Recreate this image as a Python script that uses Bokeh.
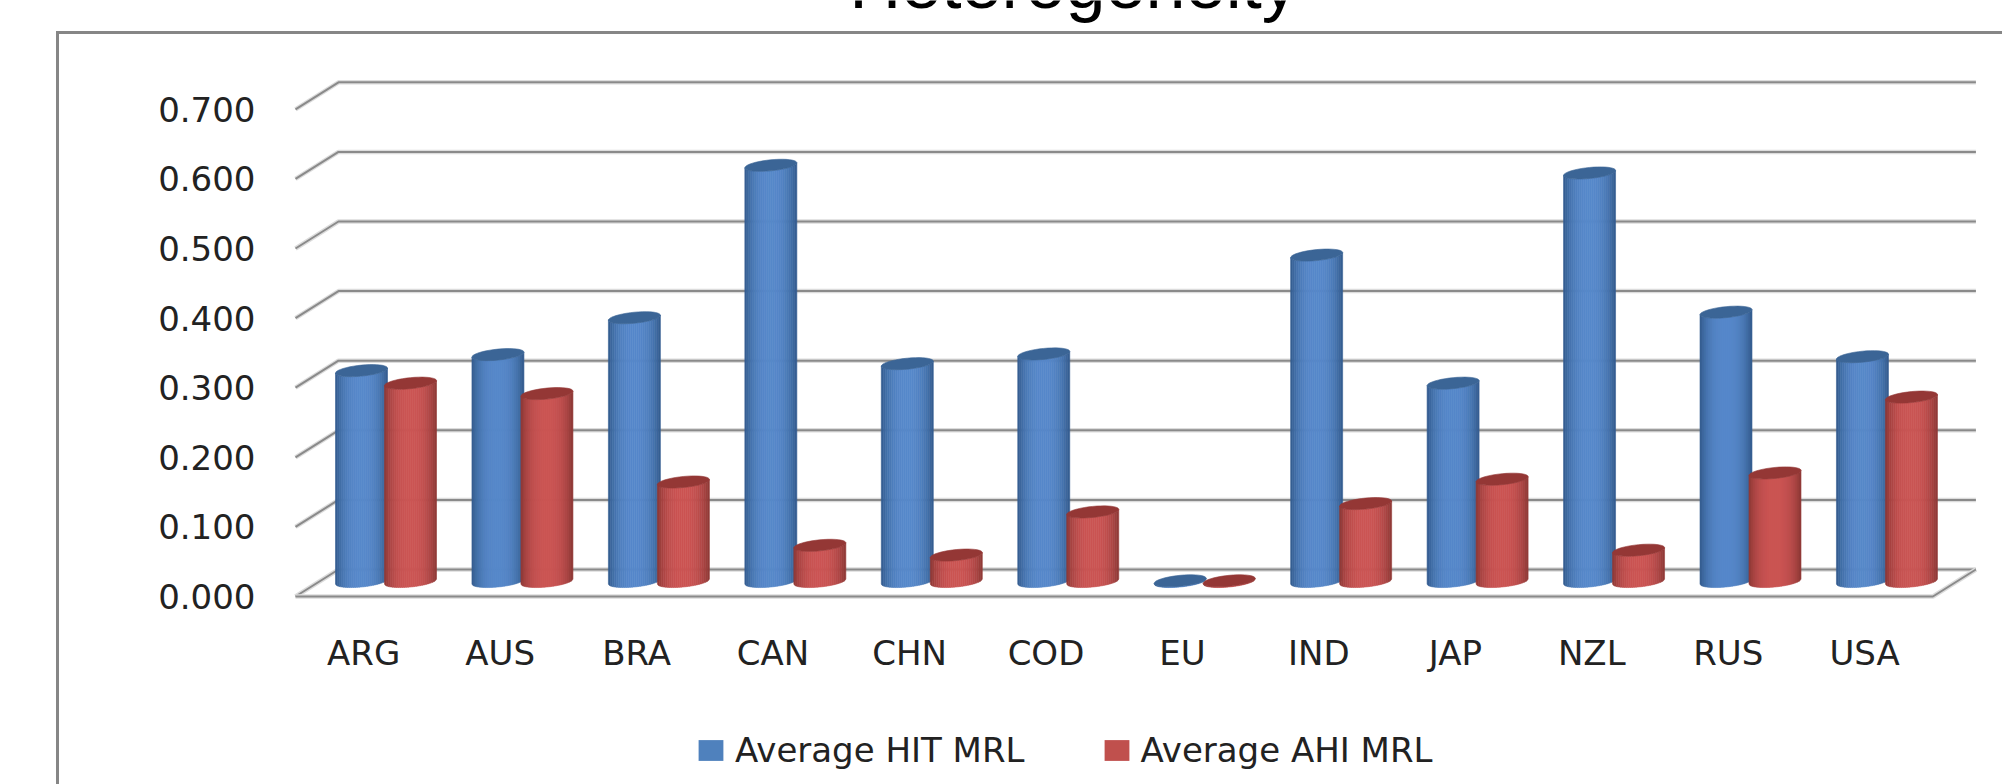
import numpy as np
from bokeh.core.properties import value
from bokeh.embed import file_html
from bokeh.models import (ColumnDataSource, FixedTicker, Legend, LegendItem,
                          NumeralTickFormatter, Range1d)
from bokeh.plotting import figure
from bokeh.resources import INLINE

categories = ["ARG", "AUS", "BRA", "CAN", "CHN", "COD", "EU", "IND", "JAP", "NZL", "RUS", "USA"]
hit_mrl = [0.303, 0.326, 0.379, 0.598, 0.313, 0.327, 0.001, 0.469, 0.285, 0.587, 0.387, 0.323]
ahi_mrl = [0.285, 0.270, 0.143, 0.052, 0.038, 0.100, 0.001, 0.112, 0.147, 0.045, 0.156, 0.265]
y_ticks = [0.0, 0.1, 0.2, 0.3, 0.4, 0.5, 0.6, 0.7]
title_text = "Heterogeneity"
series_names = ["Average HIT MRL", "Average AHI MRL"]

W, H = 2002, 784
X0, UX = 295.0, 136.45      # pixel of category axis origin, pixels per category
Y0, UY = 596.0, 696.0       # pixel of value 0 on the front wall, pixels per unit value
DEPTH_X, DEPTH_Y = 43 / UX, 27 / UY   # wall depth in data units
BASE_Y = 15 / UY            # lift of bar bases (bars stand mid-way into the floor)
HALF_W = 26 / UX
ELL_H = 5.5 / UY
TILT = 2.5 / UY
BLUE_OFF, RED_OFF = (361 - X0) / UX, (410 - X0) / UX
FONT = "DejaVu Sans"
GRID = "#8a8a8a"


def px_x(px):
    return (px - X0) / UX


def px_y(px):
    return (Y0 - px) / UY


p = figure(width=W, height=H, output_backend="svg", toolbar_location=None,
           x_range=Range1d(px_x(0), px_x(W)), y_range=Range1d(px_y(H), px_y(0)),
           min_border=0, min_border_left=0, min_border_right=0, min_border_top=0, min_border_bottom=0,
           outline_line_color=None, background_fill_color="white")
p.styles = {"position": "absolute", "left": "0px", "top": "0px"}
p.grid.visible = False

# outer chart frame, running off the right and bottom of the picture
p.line([px_x(57), px_x(57), px_x(W + 20)], [px_y(H + 20), px_y(32), px_y(32)],
       line_color="#868686", line_width=3, line_join="miter")

# walls and floor
n = len(categories)
wall_x = [[0, DEPTH_X, n + DEPTH_X] for _ in y_ticks]
wall_y = [[v, v + DEPTH_Y, v + DEPTH_Y] for v in y_ticks]
p.multi_line(wall_x, wall_y, line_color="#dcdcdc", line_width=4.5)
p.multi_line(wall_x, wall_y, line_color=GRID, line_width=2)
floor_x, floor_y = [0, n, n + DEPTH_X], [y_ticks[0]] * 2 + [y_ticks[0] + DEPTH_Y]
p.line(floor_x, floor_y, line_color="#dcdcdc", line_width=4.5)
p.line(floor_x, floor_y, line_color=GRID, line_width=2)


def mix(a, b, f):
    ca = [int(a[i:i + 2], 16) for i in (1, 3, 5)]
    cb = [int(b[i:i + 2], 16) for i in (1, 3, 5)]
    return "#%02x%02x%02x" % tuple(int(round(x + (y - x) * f)) for x, y in zip(ca, cb))


def cylinders(vals, offset, edge, centre, cap):
    xs, ys, cols = [], [], []
    edges = np.linspace(-1, 1, 27)
    for i, v in enumerate(vals):
        cx = i + offset
        base, top = BASE_Y, BASE_Y + v
        # body strips
        for a, b in zip(edges[:-1], edges[1:]):
            t = np.linspace(a, b, 4)
            low = base + TILT * t - ELL_H * np.sqrt(np.clip(1 - t ** 2, 0, 1))
            up = top + TILT * t - ELL_H * np.sqrt(np.clip(1 - t ** 2, 0, 1))
            xs.append(list(cx + HALF_W * t) + list(cx + HALF_W * t[::-1]))
            ys.append(list(low) + list(up[::-1]))
            m = abs((a + b) / 2)
            cols.append(mix(centre, edge, min(1.0, m ** 2.6)))
        # top ellipse
        th = np.linspace(0, 2 * np.pi, 41)
        xs.append(list(cx + HALF_W * np.cos(th)))
        ys.append(list(top + TILT * np.cos(th) + ELL_H * np.sin(th)))
        cols.append(cap)
    src = ColumnDataSource(dict(xs=xs, ys=ys, c=cols))
    p.patches("xs", "ys", source=src, fill_color="c", line_color="c", line_width=0.6)


cylinders(hit_mrl, BLUE_OFF, "#325a8c", "#5688ca", "#3b6596")
cylinders(ahi_mrl, RED_OFF, "#8c3735", "#cb5453", "#943735")

# legend keys
nan = [float("nan")]
r_blue = p.quad(left=nan, right=nan, top=nan, bottom=nan, fill_color="#4f81bd", line_color=None)
r_red = p.quad(left=nan, right=nan, top=nan, bottom=nan, fill_color="#c0504d", line_color=None)
legend = Legend(items=[LegendItem(label=series_names[0], renderers=[r_blue]),
                       LegendItem(label=series_names[1], renderers=[r_red])],
                orientation="horizontal", location=(695, 14), glyph_width=31, glyph_height=26,
                label_standoff=9, spacing=76, padding=0, margin=0, border_line_color=None,
                background_fill_alpha=0, label_text_font=FONT, label_text_font_size="34px",
                label_text_color="#222222")
p.add_layout(legend)

# axes, inside the canvas
p.yaxis.fixed_location = 0
p.yaxis.ticker = FixedTicker(ticks=y_ticks)
p.yaxis.formatter = NumeralTickFormatter(format="0.000")
p.xaxis.fixed_location = 0
p.xaxis.ticker = FixedTicker(ticks=[i + 0.5 for i in range(n)])
p.xaxis.major_label_overrides = {i + 0.5: c for i, c in enumerate(categories)}
for ax, standoff in ((p.yaxis, 34), (p.xaxis, 30)):
    ax.axis_line_color = None
    ax.major_tick_line_color = None
    ax.minor_tick_line_color = None
    ax.major_label_standoff = standoff
    ax.major_label_text_font = FONT
    ax.major_label_text_font_size = "34px"
    ax.major_label_text_color = "#222222"

# title, cut off by the top of the picture
p.text(x=[px_x(1073)], y=[px_y(6)], y_offset=[-24], text=[title_text], text_font=value("Liberation Sans"),
       text_font_size="72px", text_align="center", text_baseline="alphabetic", text_color="#000000")

open("out.html", "w").write(file_html(p, INLINE))
